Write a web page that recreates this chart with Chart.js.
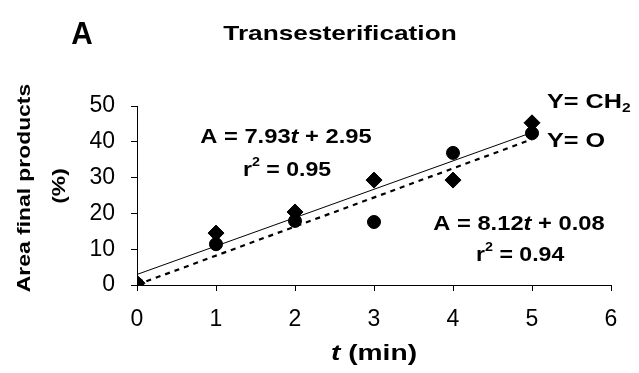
<!DOCTYPE html>
<html>
<head>
<meta charset="utf-8">
<script src="https://cdn.jsdelivr.net/npm/chart.js@4"></script>
<style>
    html, body { margin: 0; padding: 0; background: #fff; }
    #wrap { width: 639px; height: 373px; }
</style>
</head>
<body>
<div id="wrap"><canvas id="chart" width="639" height="373"></canvas></div>
<script>
// time points (min)
const tValues = [0, 1, 2, 3, 4, 5];
// Y = CH2 (diamonds) and Y = O (circles), area of final products (%)
const ch2Values = [0.5, 14.5, 20.4, 29.3, 29.3, 45.3];
const oValues = [0.3, 11.4, 17.9, 17.6, 36.9, 42.4];
// regression lines, end points
const fitT = [0, 5];
const ch2Fit = [2.95, 42.6];
const oFit = [0.08, 40.7];
// axes
const xMin = 0, xMax = 6, xStep = 1;
const yMin = 0, yMax = 50, yStep = 10;

const FONT = '"Liberation Sans", Arial, sans-serif';

function toPoints(xs, ys) {
    return xs.map((x, i) => ({ x: x, y: ys[i] }));
}

// draws a run of text pieces (italic / superscript / subscript) centred or left aligned
function drawRich(ctx, parts, x, y, size, opts) {
    opts = opts || {};
    const stretch = opts.stretch || 1;
    const fontFor = p => {
        const s = (p.sup || p.sub) ? size * 0.62 : size;
        return (p.italic ? 'italic ' : '') + 'bold ' + s + 'px ' + FONT;
    };
    let w = 0;
    parts.forEach(p => { ctx.font = fontFor(p); w += ctx.measureText(p.text).width; });
    ctx.save();
    ctx.translate(x, y);
    if (opts.rotate) ctx.rotate(opts.rotate);
    ctx.scale(stretch, 1);
    ctx.fillStyle = '#000';
    ctx.textBaseline = 'middle';
    ctx.textAlign = 'left';
    let cx = opts.align === 'left' ? 0 : -w / 2;
    parts.forEach(p => {
        ctx.font = fontFor(p);
        let dy = 0;
        if (p.sup) dy = -size * 0.38;
        if (p.sub) dy = size * 0.3;
        ctx.fillText(p.text, cx, dy);
        cx += ctx.measureText(p.text).width;
    });
    ctx.restore();
}

const labelsPlugin = {
    id: 'labels',
    afterDraw(chart) {
        const ctx = chart.ctx;
        const xs = chart.scales.x, ys = chart.scales.y;
        const px = v => xs.getPixelForValue(v);
        const py = v => ys.getPixelForValue(v);

        drawRich(ctx, [{ text: 'A' }], 82, 35, 32, { stretch: 0.93 });
        drawRich(ctx, [{ text: 'Transesterification' }], 340, 34, 21, { stretch: 1.25 });

        drawRich(ctx, [{ text: 'Area final products' }], 25, 188, 18, { rotate: -Math.PI / 2, stretch: 1.27 });
        drawRich(ctx, [{ text: '(%)' }], 60, 186, 18, { rotate: -Math.PI / 2, stretch: 1.27 });

        drawRich(ctx, [{ text: 't', italic: true }, { text: ' (min)' }], 374, 354, 22, { stretch: 1.28 });

        drawRich(ctx, [{ text: 'A = 7.93' }, { text: 't', italic: true }, { text: ' + 2.95' }], px(1.886), py(41.3), 21, { stretch: 1.13 });
        drawRich(ctx, [{ text: 'r' }, { text: '2', sup: true }, { text: ' = 0.95' }], px(1.9), py(32.1), 21, { stretch: 1.1 });
        drawRich(ctx, [{ text: 'A = 8.12' }, { text: 't', italic: true }, { text: ' + 0.08' }], px(4.835), py(16.9), 21, { stretch: 1.13 });
        drawRich(ctx, [{ text: 'r' }, { text: '2', sup: true }, { text: ' = 0.94' }], px(4.85), py(8.4), 21, { stretch: 1.1 });

        drawRich(ctx, [{ text: 'Y= CH' }, { text: '2', sub: true }], px(5.19), py(51.0), 21, { align: 'left', stretch: 1.2 });
        drawRich(ctx, [{ text: 'Y= O' }], px(5.19), py(40.1), 21, { align: 'left', stretch: 1.2 });
    }
};

const axisLook = {
    grid: { display: true, drawOnChartArea: false, drawTicks: true, tickLength: 6, color: '#000', lineWidth: 1 },
    border: { display: true, color: '#000', width: 1 },
};

new Chart(document.getElementById('chart'), {
    type: 'scatter',
    data: {
        datasets: [{
            label: 'Y= CH2',
            data: toPoints(tValues, ch2Values),
            pointStyle: 'rectRot',
            pointRadius: 8,
            backgroundColor: '#000',
            borderColor: '#000',
            borderWidth: 1
        }, {
            label: 'Y= O',
            data: toPoints(tValues, oValues),
            pointStyle: 'circle',
            pointRadius: 6.5,
            backgroundColor: '#000',
            borderColor: '#000',
            borderWidth: 1
        }, {
            label: 'fit CH2',
            type: 'line',
            data: toPoints(fitT, ch2Fit),
            borderColor: '#000',
            borderWidth: 1,
            pointRadius: 0,
            fill: false
        }, {
            label: 'fit O',
            type: 'line',
            data: toPoints(fitT, oFit),
            borderColor: '#000',
            borderWidth: 2.2,
            borderDash: [5, 5],
            pointRadius: 0,
            fill: false
        }]
    },
    options: {
        responsive: false,
        animation: false,
        devicePixelRatio: 1,
        layout: { padding: { top: 106, right: 28, left: 0, bottom: 0 } },
        plugins: {
            legend: { display: false },
            tooltip: { enabled: false }
        },
        scales: {
            x: {
                type: 'linear',
                min: xMin,
                max: xMax,
                ...axisLook,
                ticks: { stepSize: xStep, color: '#000', padding: 15, font: { family: FONT, size: 23 } },
                afterFit(scale) { scale.height = 88; }
            },
            y: {
                type: 'linear',
                min: yMin,
                max: yMax,
                ...axisLook,
                ticks: { stepSize: yStep, color: '#000', padding: 16, font: { family: FONT, size: 23 } },
                afterFit(scale) { scale.width = 137; }
            }
        }
    },
    plugins: [labelsPlugin]
});
</script>
</body>
</html>
